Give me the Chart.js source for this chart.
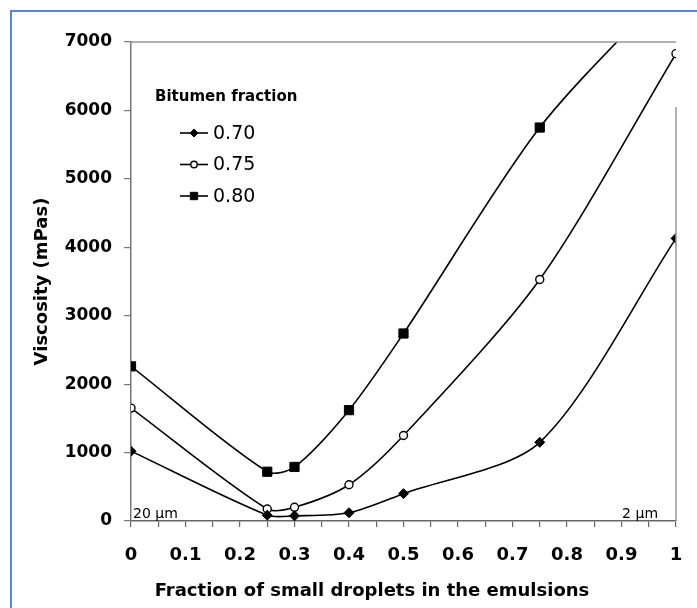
<!DOCTYPE html>
<html>
<head>
<meta charset="utf-8">
<script src="https://cdn.jsdelivr.net/npm/chart.js@4/dist/chart.umd.min.js"></script>
<style>
  html, body { margin: 0; padding: 0; background: #fff; overflow: hidden; }
  #wrap { position: relative; width: 697px; height: 608px; }
  #frame { position: absolute; left: 10px; top: 10px; width: 720px; height: 640px;
           border-left: 2px solid #5a86c6; border-top: 2px solid #5a86c6; pointer-events: none; }
  canvas { position: absolute; left: 0; top: 0; }
</style>
</head>
<body>
<div id="wrap">
  <canvas id="c" width="697" height="608"></canvas>
  <div id="frame"></div>
</div>
<script>
// ---- data ----
const fractionSmall = [0, 0.25, 0.3, 0.4, 0.5, 0.75, 1];
const bitumen070 = [1020, 85, 75, 120, 400, 1150, 4130];
const bitumen075 = [1650, 175, 200, 530, 1250, 3530, 6830];
const bitumen080 = [2260, 720, 790, 1620, 2740, 5750, 7900];
const seriesLabels = ['0.70', '0.75', '0.80'];
const legendTitle = 'Bitumen fraction';
const xTitle = 'Fraction of small droplets in the emulsions';
const yTitle = 'Viscosity (mPas)';
const leftNote = '20 µm';
const rightNote = '2 µm';

const toPts = arr => fractionSmall.map((x, i) => ({ x: x, y: arr[i] }));

const common = {
  borderColor: '#000', borderWidth: 1.6, tension: 0.28, fill: false
};

const datasets = [
  Object.assign({}, common, { label: seriesLabels[0], data: toPts(bitumen070),
    pointStyle: 'rectRot', pointRadius: 5, pointBackgroundColor: '#000', pointBorderColor: '#000', pointBorderWidth: 1 }),
  Object.assign({}, common, { label: seriesLabels[1], data: toPts(bitumen075),
    pointStyle: 'circle', pointRadius: 4, pointBackgroundColor: '#fff', pointBorderColor: '#000', pointBorderWidth: 1.4 }),
  Object.assign({}, common, { label: seriesLabels[2], data: toPts(bitumen080),
    pointStyle: 'rect', pointRadius: 6.5, pointBackgroundColor: '#000', pointBorderColor: '#000', pointBorderWidth: 1 })
];

const FONT = "'DejaVu Sans', sans-serif";

const decor = {
  id: 'decor',
  afterDatasetsDraw(chart) {
    const { ctx, chartArea: a, scales } = chart;
    const xs = scales.x, ys = scales.y;
    ctx.save();
    // frame lines (top, right)
    ctx.strokeStyle = '#999';
    ctx.lineWidth = 1.5;
    ctx.beginPath();
    ctx.moveTo(a.left, a.top); ctx.lineTo(a.right, a.top);
    ctx.moveTo(a.right, ys.getPixelForValue(6050)); ctx.lineTo(a.right, a.bottom);
    ctx.stroke();

    // size notes
    ctx.fillStyle = '#000';
    ctx.font = "14px " + FONT;
    ctx.textBaseline = 'alphabetic';
    ctx.textAlign = 'left';
    ctx.fillText(leftNote, xs.getPixelForValue(0) + 2, a.bottom - 3);
    ctx.textAlign = 'right';
    ctx.fillText(rightNote, xs.getPixelForValue(0.967), a.bottom - 3);

    // legend
    const lx = a.left + 24, ly = a.top + 55;
    ctx.textAlign = 'left';
    ctx.textBaseline = 'middle';
    ctx.font = "bold 15px " + FONT;
    ctx.fillText(legendTitle, lx, ly);
    chart.data.datasets.forEach((ds, i) => {
      const y = ly + 36 + i * 31.5;
      const x0 = a.left + 49, x1 = a.left + 77;
      ctx.strokeStyle = '#000';
      ctx.lineWidth = 1.6;
      ctx.beginPath(); ctx.moveTo(x0, y); ctx.lineTo(x1, y); ctx.stroke();
      ctx.fillStyle = ds.pointBackgroundColor;
      ctx.strokeStyle = ds.pointBorderColor;
      ctx.lineWidth = ds.pointBorderWidth;
      Chart.helpers.drawPoint(ctx, { pointStyle: ds.pointStyle, radius: ds.pointRadius * 0.8, rotation: 0, borderWidth: ds.pointBorderWidth }, (x0 + x1) / 2, y);
      ctx.fillStyle = '#000';
      ctx.font = "19px " + FONT;
      ctx.fillText(ds.label, x1 + 5, y + 1);
    });

    // x axis title
    ctx.font = "bold 18px " + FONT;
    ctx.textAlign = 'center';
    ctx.textBaseline = 'middle';
    ctx.fillText(xTitle, 372, 591);
    ctx.restore();
  }
};

new Chart(document.getElementById('c'), {
  type: 'line',
  data: { datasets: datasets },
  plugins: [decor],
  options: {
    responsive: false,
    animation: false,
    events: [],
    layout: { padding: { left: 0, top: 42, right: 21, bottom: 0 } },
    plugins: { legend: { display: false }, tooltip: { enabled: false } },
    scales: {
      x: {
        type: 'linear', min: 0, max: 1,
        afterFit: s => { s.height = 87; s.paddingRight = 0; s.paddingLeft = 0; },
        grid: { drawOnChartArea: false, drawTicks: true, tickLength: 6, color: '#666', lineWidth: 1.2 },
        border: { color: '#666', width: 1.5 },
        ticks: {
          stepSize: 0.05, autoSkip: false, maxRotation: 0, padding: 18, color: '#000',
          font: { family: FONT, size: 18, weight: 'bold' },
          callback: v => {
            const k = Math.round(v * 100);
            if (k % 10 !== 0) return '';
            if (k === 0) return '0';
            if (k === 100) return '1';
            return (k / 100).toFixed(1);
          }
        }
      },
      y: {
        min: 0, max: 7000,
        afterFit: s => { s.width = 131; },
        grid: { drawOnChartArea: false, drawTicks: true, tickLength: 7, color: '#777', lineWidth: 1.2 },
        border: { color: '#777', width: 1.5 },
        ticks: {
          stepSize: 1000, padding: 12, color: '#000',
          font: { family: FONT, size: 17, weight: 'bold' },
          callback: v => String(v)
        },
        title: {
          display: true, text: yTitle, color: '#000',
          font: { family: FONT, size: 18, weight: 'bold' },
          padding: { top: 32, bottom: 0 }
        }
      }
    }
  }
});
</script>
</body>
</html>
